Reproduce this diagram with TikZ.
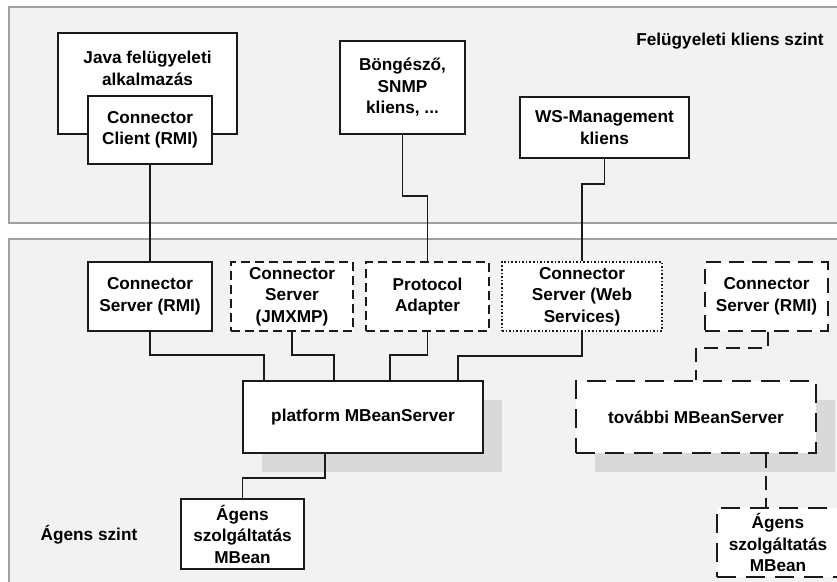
\documentclass[tikz,border=0pt]{standalone}
\usepackage{fontspec}
\setmainfont{Liberation Sans}
\usetikzlibrary{shadows}
\definecolor{panelfill}{HTML}{F2F2F2}
\definecolor{panelline}{HTML}{A0A0A0}
\definecolor{shadowgray}{HTML}{D9D9D9}
\definecolor{ink}{HTML}{1A1A1A}
\tikzset{
  panel/.style={fill=panelfill, draw=panelline, line width=1.3pt},
  box/.style={draw=ink, fill=white, line width=1.8pt, inner sep=0pt,
    align=center, font=\bfseries\fontsize{17.2}{21.5}\selectfont},
  lbl/.style={inner sep=0pt, align=center, font=\bfseries\fontsize{17.2}{21.5}\selectfont},
  shortdash/.style={dash pattern=on 9pt off 5pt},
  longdash/.style={dash pattern=on 15pt off 8pt},
  widedash/.style={dash pattern=on 19pt off 10pt},
  fine dots/.style={dash pattern=on 1.6pt off 2pt},
  wire/.style={draw=ink, line width=1.7pt},
  dashwire/.style={wire, dash pattern=on 14pt off 8pt},
  boxshadow/.style={general shadow={fill=shadowgray, shadow xshift=19pt, shadow yshift=-19pt}},
}
\begin{document}
\begin{tikzpicture}[x=1pt, y=-1pt]
\useasboundingbox (0,0) rectangle (837,581);
\clip (0,0) rectangle (837,581);
\fill[white] (0,0) rectangle (837,581);

% the two layers
\path[panel] (9,7) rectangle (850,223);
\path[panel] (9,239) rectangle (850,600);
\node[lbl, anchor=center] (clientlevel) at (730,41) {Felügyeleti kliens szint};
\node[lbl, anchor=center] (agentlevel) at (89,535) {Ágens szint};

% management clients
\node[box, minimum width=179pt, minimum height=101pt] (javaapp) at (147.5,83.5) {};
\node[lbl] (javatxt) at (147.5,68.5) {Java felügyeleti\\alkalmazás};
\node[box, minimum width=124pt, minimum height=68pt] (client) at (150,130) {Connector\\Client (RMI)};
\node[box, minimum width=125pt, minimum height=93pt] (browser) at (402.5,87.5) {Böngésző,\\SNMP\\kliens, ...};
\node[box, minimum width=169pt, minimum height=61pt] (wsman) at (604.5,127.5) {WS-Management\\kliens};

% connector servers and adapters
\node[box, minimum width=124pt, minimum height=69pt] (csrmi) at (150,296.5) {Connector\\Server (RMI)};
\node[box, shortdash, minimum width=122pt, minimum height=69pt] (jmxmp) at (292,296.5) {Connector\\Server\\(JMXMP)};
\node[box, shortdash, minimum width=123pt, minimum height=69pt] (protad) at (427.5,296.5) {Protocol\\Adapter};
\node[box, fine dots, line width=1.4pt, minimum width=160pt, minimum height=69pt] (wssrv) at (582,296.5) {Connector\\Server (Web\\Services)};
\node[box, longdash, minimum width=123pt, minimum height=69pt] (csrmi2) at (766.5,296.5) {Connector\\Server (RMI)};

% MBean servers
\node[box, boxshadow, minimum width=240pt, minimum height=72pt] (platform) at (363,417) {platform MBeanServer};
\node[box, boxshadow, widedash, minimum width=240pt, minimum height=72pt] (further) at (696,417) {további MBeanServer};

% agent service MBeans
\node[box, minimum width=123pt, minimum height=70pt] (agent1) at (242.5,534) {Ágens\\szolgáltatás\\MBean};
\node[box, widedash, minimum width=122pt, minimum height=69pt] (agent2) at (778,542.5) {Ágens\\szolgáltatás\\MBean};

% client-to-server links
\draw[wire] (client.south) -- (csrmi.north);
\draw[wire] (browser.south) -- ++(0,61) -| (protad.north);
\draw[wire] (wsman.south) -- ++(0,25) -| (wssrv.north);

% server-to-MBeanServer links
\draw[wire] (csrmi.south) -- ++(0,23) -| ([xshift=22pt]platform.north west);
\draw[wire] (jmxmp.south) -- ++(0,23) -| ([xshift=92pt]platform.north west);
\draw[wire] (protad.south) -- ++(0,23) -| ([xshift=148pt]platform.north west);
\draw[wire] (wssrv.south) -- ++(0,24) -| ([xshift=216pt]platform.north west);
\draw[dashwire] ([xshift=1.5pt]csrmi2.south) -- ++(0,16) -| (further.north);

% MBeanServer-to-MBean links
\draw[wire] ([xshift=83pt]platform.south west) -- ++(0,24) -| (agent1.north);
\draw[dashwire] ([xshift=191pt]further.south west) -- ([xshift=191pt]further.south west |- agent2.north);
\end{tikzpicture}
\end{document}
